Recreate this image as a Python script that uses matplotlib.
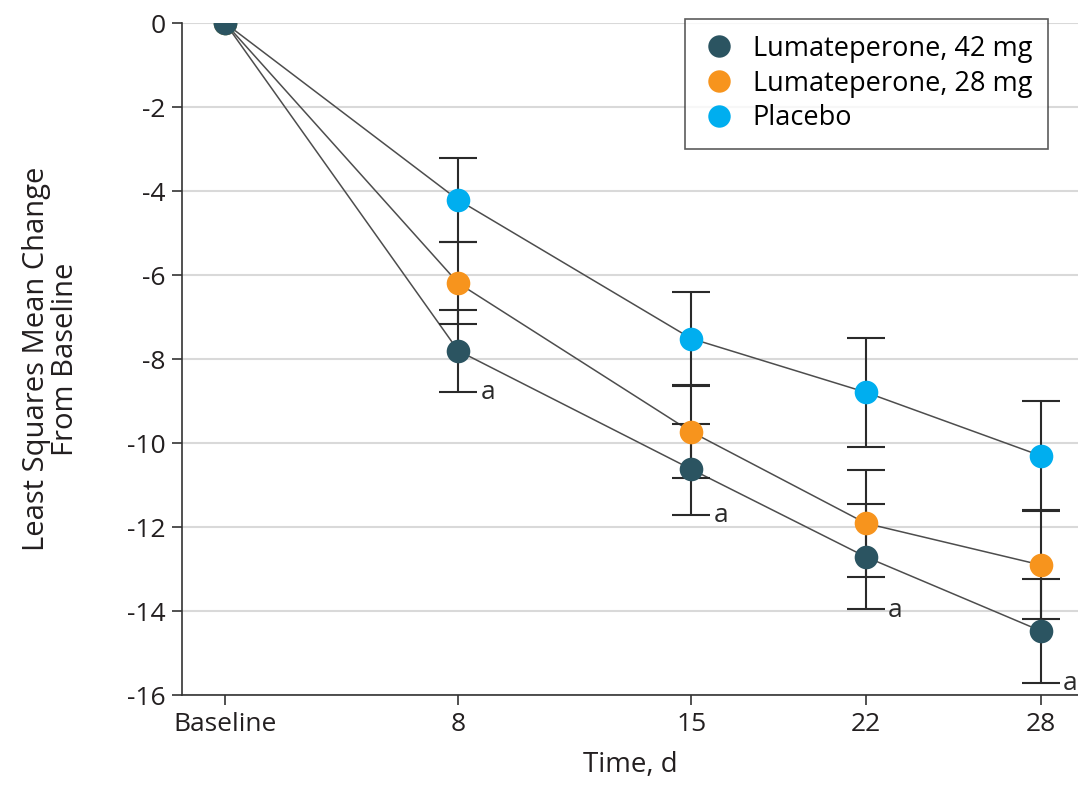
import matplotlib.pyplot as plt

# x positions on the axis (the reference spaces days unevenly)
tick_labels = ["Baseline", "8", "15", "22", "28"]
x_pos = [0, 1, 2, 2.75, 3.5]

series_names = ["Lumateperone, 42 mg", "Lumateperone, 28 mg", "Placebo"]
colors = ["#2b5461", "#f7941d", "#00aeef"]

lum42 = [0, -7.8, -10.62, -12.71, -14.47]
lum42_err = [0, 0.98, 1.08, 1.25, 1.24]
lum28 = [0, -6.19, -9.73, -11.91, -12.90]
lum28_err = [0, 0.98, 1.10, 1.27, 1.28]
placebo = [0, -4.21, -7.51, -8.79, -10.30]
placebo_err = [0, 0.99, 1.10, 1.29, 1.30]

# days where 42 mg differed from placebo
sig_idx = [1, 2, 3, 4]

plt.rcParams["font.family"] = ["Open Sans", "DejaVu Sans"]

fig = plt.figure(figsize=(10.78, 7.99), dpi=100)
ax = fig.add_axes([0.169, 0.130, 0.831, 0.841])

all_y = [lum42, lum28, placebo]
all_err = [lum42_err, lum28_err, placebo_err]

# connecting lines
for ys in all_y:
    ax.plot(x_pos, ys, color="#4d4d4d", lw=1.1, zorder=2)

# error bars (skip baseline)
for ys, es in zip(all_y, all_err):
    ax.errorbar(x_pos[1:], ys[1:], yerr=es[1:], fmt="none", ecolor="#2a2a2a",
                elinewidth=1.5, capsize=14, capthick=1.5, zorder=3)

# markers, placebo first so 42 mg sits on top at baseline
handles = {}
for i in [2, 1, 0]:
    h, = ax.plot(x_pos, all_y[i], "o", color=colors[i], ms=17, mec="none",
                 zorder=4, label=series_names[i])
    handles[i] = h

for i in sig_idx:
    ax.text(x_pos[i] + 0.095, lum42[i] - lum42_err[i] - 0.02, "a",
            fontsize=19, color="#2a2a2a", va="center", ha="left", zorder=5)

ax.set_xlim(-0.185, 3.66)
ax.set_ylim(-16, 0)
ax.set_yticks(range(-16, 1, 2))
ax.set_yticklabels([str(v) for v in range(-16, 1, 2)])
ax.set_xticks(x_pos)
ax.set_xticklabels(tick_labels)
ax.tick_params(axis="both", labelsize=19, length=7, width=1.2, color="#333333",
               labelcolor="#231f20")
ax.tick_params(axis="y", pad=5)
ax.tick_params(axis="x", pad=5)

ax.grid(axis="y", color="#d9d9d9", lw=1.5, zorder=0)
ax.set_axisbelow(True)
for s in ["top", "right"]:
    ax.spines[s].set_visible(False)
for s in ["left", "bottom"]:
    ax.spines[s].set_color("#333333")
    ax.spines[s].set_linewidth(1.2)

ax.set_ylabel("Least Squares Mean Change\nFrom Baseline", fontsize=21,
              color="#231f20", labelpad=34, linespacing=1.0)
ax.set_xlabel("Time, d", fontsize=20, color="#231f20", labelpad=10)

leg = ax.legend([handles[0], handles[1], handles[2]], series_names,
                loc="upper right", bbox_to_anchor=(0.982, 1.027),
                fontsize=19.5, frameon=True, fancybox=False, edgecolor="#333333",
                handletextpad=0.6, borderpad=0.6, labelspacing=0.25,
                markerscale=0.95, handlelength=1.3)
leg.get_frame().set_linewidth(1.2)
leg.set_zorder(10)

fig.savefig("out.png", dpi=100)
